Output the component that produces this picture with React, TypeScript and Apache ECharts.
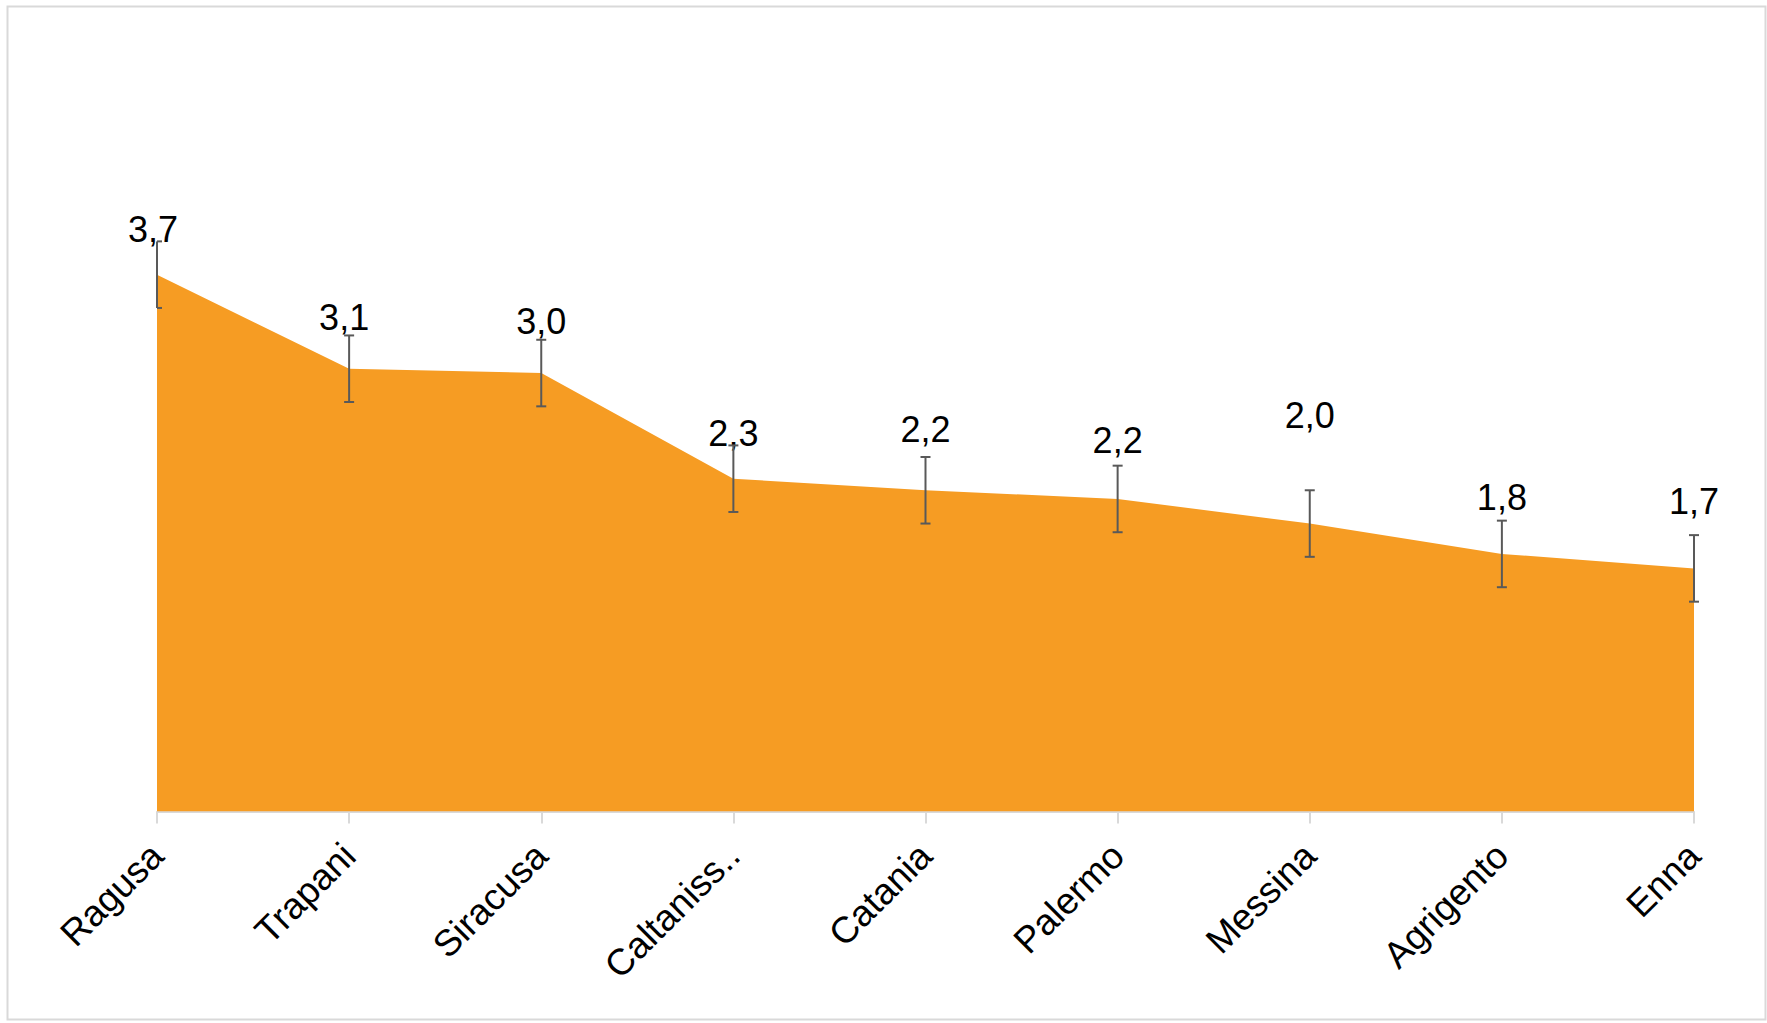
import React, { useEffect, useRef } from "react";
import * as echarts from "echarts";

const CATEGORIES = ["Ragusa", "Trapani", "Siracusa", "Caltanissetta", "Catania", "Palermo", "Messina", "Agrigento", "Enna"];
const VALUES = [3.71, 3.06, 3.03, 2.3, 2.22, 2.16, 1.99, 1.78, 1.68];
const ERR = [0.23, 0.23, 0.23, 0.23, 0.23, 0.23, 0.23, 0.23, 0.23];
// label layout (pixels): vertical lift above point, horizontal shift
const LABEL_LIFT = [45, 51, 52, 45, 61, 58, 108, 56, 67];
const LABEL_DX = [-4, -5, 0, 0, 0, 0, 0, 0, 0];

const FONT = "'Liberation Sans', Arial, sans-serif";
const ORANGE = "#F69C23";

export default function App() {
  const ref = useRef<HTMLDivElement>(null);
  useEffect(() => {
    document.body.style.margin = "0";
    const chart = echarts.init(ref.current!, undefined, { renderer: "svg" });
    chart.setOption({
      animation: false,
      backgroundColor: "#ffffff",
      graphic: [
        {
          type: "rect",
          left: 5,
          top: 4,
          shape: { width: 1758, height: 1013 },
          style: { fill: "none", stroke: "#d9d9d9", lineWidth: 2 },
          silent: true,
        },
      ],
      grid: { left: 157, right: 73, top: 88, bottom: 211.5, containLabel: false },
      xAxis: {
        type: "category",
        data: CATEGORIES,
        boundaryGap: false,
        axisLine: { show: true, lineStyle: { color: "#d9d9d9", width: 2 } },
        axisTick: { show: true, length: 12, lineStyle: { color: "#d9d9d9", width: 2 } },
        axisLabel: {
          rotate: 45,
          margin: 38,
          interval: 0,
          color: "#000000",
          fontFamily: FONT,
          fontSize: 37,
          formatter: (v: string) => (v.length > 10 ? v.slice(0, 9) + ".." : v),
        },
        splitLine: { show: false },
      },
      yAxis: {
        type: "value",
        min: 0,
        max: 5,
        show: false,
        splitLine: { show: false },
      },
      series: [
        {
          type: "line",
          data: VALUES.map((v, i) => ({
            value: v,
            label: { offset: [LABEL_DX[i], -LABEL_LIFT[i]] },
          })),
          symbol: "circle",
          symbolSize: 1,
          itemStyle: { color: ORANGE },
          lineStyle: { width: 0, color: ORANGE },
          areaStyle: { color: ORANGE, opacity: 1 },
          z: 2,
          label: {
            show: true,
            position: "inside",
            color: "#000000",
            fontFamily: FONT,
            fontSize: 36,
            formatter: (p: any) => Number(p.value).toFixed(1).replace(".", ","),
          },
        },
        {
          type: "custom",
          z: 3,
          data: VALUES.map((v, i) => [i, v, ERR[i]]),
          encode: { x: 0, y: 1 },
          renderItem: (params: any, api: any) => {
            const i = api.value(0);
            const v = api.value(1);
            const e = api.value(2);
            const top = api.coord([i, v + e]);
            const bot = api.coord([i, v - e]);
            const cap = 5;
            const left = i === 0 ? 0 : cap;
            const style = { stroke: "#595959", lineWidth: 2 };
            return {
              type: "group",
              children: [
                { type: "line", shape: { x1: top[0], y1: top[1], x2: bot[0], y2: bot[1] }, style },
                { type: "line", shape: { x1: top[0] - left, y1: top[1], x2: top[0] + cap, y2: top[1] }, style },
                { type: "line", shape: { x1: bot[0] - left, y1: bot[1], x2: bot[0] + cap, y2: bot[1] }, style },
              ],
            };
          },
        },
      ],
    });
    return () => chart.dispose();
  }, []);
  return <div ref={ref} style={{ width: 1767, height: 1023 }} />;
}
